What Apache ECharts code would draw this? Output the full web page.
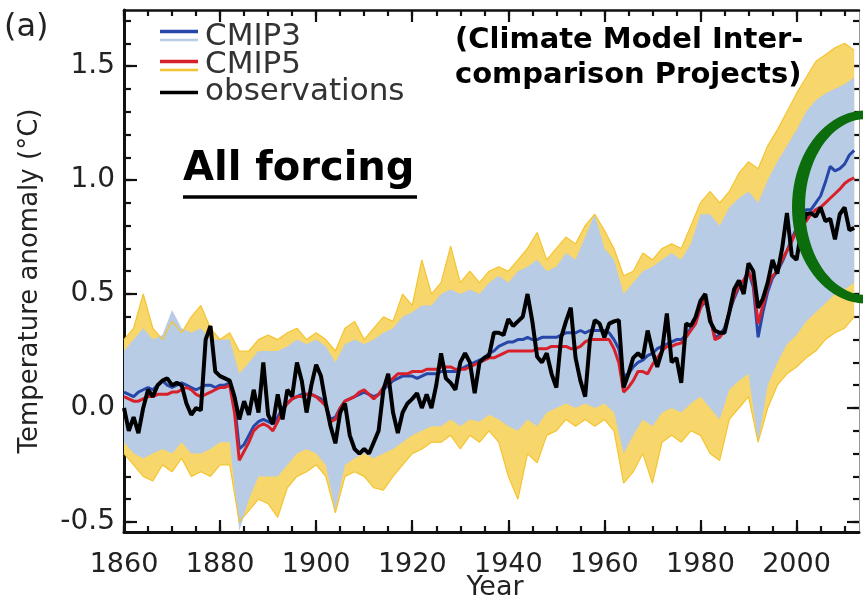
<!DOCTYPE html>
<html><head><meta charset="utf-8">
<script src="https://cdn.jsdelivr.net/npm/echarts@6/dist/echarts.min.js"></script>
<style>html,body{margin:0;padding:0;background:#fff}#c{width:863px;height:603px}</style>
</head><body><div id="c"></div>
<script>
// ---------- data ----------
const firstYear = 1860;           // annual series start (index 0 = 1860)
const envFirstYear = 1860;        // envelope series sampled every 2 years
const envStep = 2;

const observations = [
  0.0,-0.1,-0.04,-0.11,0.0,0.08,0.05,0.1,0.12,0.13,
  0.1,0.11,0.1,0.02,-0.03,0.0,-0.01,0.3,0.36,0.16,
  0.14,0.13,0.12,0.05,-0.05,0.03,-0.03,0.08,-0.02,0.2,
  -0.03,-0.07,0.06,-0.05,0.08,0.05,0.2,0.12,-0.02,0.1,
  0.19,0.14,0.02,-0.08,-0.155,-0.02,0.02,-0.12,-0.18,-0.2,
  -0.18,-0.2,-0.15,-0.1,0.08,0.15,-0.02,-0.11,-0.02,0.02,
  0.04,0.065,0.0,0.06,0.0,0.1,0.24,0.13,0.11,0.08,
  0.2,0.24,0.2,0.065,0.2,0.22,0.23,0.33,0.33,0.32,
  0.39,0.36,0.38,0.4,0.5,0.38,0.225,0.2,0.24,0.15,
  0.09,0.31,0.38,0.44,0.22,0.12,0.05,0.3,0.385,0.37,
  0.31,0.37,0.38,0.385,0.09,0.15,0.22,0.24,0.22,0.34,
  0.25,0.18,0.25,0.415,0.2,0.22,0.11,0.37,0.36,0.4,
  0.47,0.5,0.38,0.34,0.33,0.33,0.42,0.52,0.56,0.5,
  0.635,0.6,0.44,0.48,0.55,0.65,0.59,0.7,0.855,0.67,
  0.65,0.78,0.85,0.855,0.84,0.88,0.82,0.83,0.74,0.85,
  0.88,0.78,0.79
];
const cmip5Mean = [
  0.05,0.04,0.03,0.03,0.04,0.05,0.05,0.06,0.06,0.06,
  0.07,0.07,0.08,0.09,0.08,0.06,0.05,0.06,0.07,0.08,
  0.09,0.09,0.1,-0.02,-0.23,-0.19,-0.15,-0.1,-0.08,-0.07,
  -0.08,-0.1,-0.06,-0.01,0.02,0.04,0.05,0.05,0.06,0.06,
  0.05,0.03,0.01,-0.06,-0.05,0.0,0.03,0.04,0.05,0.07,
  0.08,0.06,0.04,0.06,0.09,0.11,0.13,0.15,0.15,0.15,
  0.16,0.16,0.16,0.17,0.17,0.17,0.18,0.18,0.18,0.17,
  0.17,0.17,0.18,0.19,0.2,0.21,0.22,0.22,0.23,0.24,
  0.25,0.25,0.25,0.25,0.25,0.25,0.26,0.26,0.26,0.27,
  0.27,0.27,0.27,0.26,0.26,0.27,0.29,0.3,0.3,0.3,
  0.3,0.3,0.26,0.2,0.07,0.09,0.12,0.16,0.16,0.15,
  0.19,0.22,0.25,0.27,0.27,0.28,0.285,0.31,0.34,0.37,
  0.44,0.48,0.4,0.3,0.31,0.34,0.42,0.49,0.54,0.56,
  0.6,0.55,0.37,0.45,0.53,0.58,0.6,0.65,0.69,0.73,
  0.78,0.8,0.82,0.85,0.87,0.88,0.9,0.92,0.94,0.96,
  0.985,1.0,1.01
];
const cmip3Mean = [
  0.07,0.06,0.05,0.07,0.08,0.09,0.08,0.1,0.12,0.1,
  0.09,0.1,0.11,0.1,0.09,0.08,0.09,0.1,0.1,0.09,
  0.1,0.1,0.11,0.02,-0.18,-0.16,-0.12,-0.08,-0.06,-0.05,
  -0.06,-0.07,-0.04,0.0,0.02,0.04,0.05,0.06,0.06,0.06,
  0.05,0.04,0.01,-0.05,-0.04,0.0,0.03,0.04,0.05,0.06,
  0.07,0.06,0.05,0.06,0.08,0.1,0.12,0.13,0.14,0.14,
  0.14,0.13,0.14,0.15,0.15,0.15,0.16,0.16,0.16,0.16,
  0.17,0.18,0.19,0.2,0.21,0.22,0.24,0.25,0.27,0.28,
  0.29,0.29,0.3,0.3,0.31,0.3,0.3,0.31,0.31,0.31,
  0.31,0.32,0.33,0.33,0.33,0.34,0.33,0.34,0.34,0.34,
  0.34,0.33,0.3,0.26,0.14,0.15,0.18,0.2,0.21,0.23,
  0.24,0.26,0.27,0.28,0.29,0.3,0.3,0.32,0.35,0.38,
  0.44,0.47,0.4,0.31,0.32,0.35,0.42,0.48,0.53,0.56,
  0.6,0.53,0.31,0.42,0.51,0.57,0.6,0.64,0.69,0.74,
  0.79,0.84,0.87,0.87,0.9,0.93,0.99,1.06,1.04,1.05,
  1.07,1.11,1.13
];
// CMIP5 individual-run envelope (yellow), every 2 years
const cmip5Upper = [
  0.3,0.35,0.5,0.35,0.3,0.38,0.33,0.4,0.45,0.35,
  0.3,0.33,0.25,0.25,0.3,0.32,0.3,0.33,0.35,0.3,
  0.33,0.3,0.25,0.35,0.38,0.3,0.35,0.4,0.38,0.5,
  0.45,0.65,0.5,0.55,0.71,0.55,0.6,0.55,0.6,0.62,
  0.6,0.65,0.7,0.77,0.65,0.7,0.75,0.72,0.8,0.85,
  0.78,0.7,0.58,0.6,0.68,0.65,0.7,0.72,0.7,0.8,
  0.9,0.95,0.9,0.95,1.03,1.08,1.05,1.15,1.22,1.3,
  1.38,1.45,1.52,1.55,1.58,1.6,1.57
];
const cmip5Lower = [
  -0.2,-0.25,-0.3,-0.32,-0.25,-0.28,-0.22,-0.3,-0.28,-0.3,
  -0.25,-0.25,-0.5,-0.45,-0.4,-0.42,-0.48,-0.35,-0.3,-0.28,
  -0.25,-0.3,-0.46,-0.3,-0.28,-0.3,-0.35,-0.36,-0.3,-0.25,
  -0.2,-0.18,-0.15,-0.15,-0.12,-0.18,-0.12,-0.15,-0.1,-0.15,
  -0.3,-0.4,-0.2,-0.24,-0.12,-0.1,-0.05,-0.08,-0.05,-0.08,
  -0.05,-0.1,-0.33,-0.28,-0.2,-0.33,-0.15,-0.12,-0.15,-0.1,
  -0.12,-0.2,-0.23,-0.05,0.0,0.05,-0.15,0.0,0.1,0.15,
  0.18,0.22,0.25,0.3,0.33,0.35,0.4
];
// CMIP3 individual-run envelope (light blue), every 2 years
const cmip3Upper = [
  0.25,0.3,0.35,0.3,0.32,0.43,0.35,0.33,0.35,0.3,
  0.3,0.3,0.15,0.2,0.25,0.25,0.25,0.27,0.3,0.28,
  0.3,0.27,0.2,0.28,0.3,0.28,0.3,0.33,0.35,0.4,
  0.42,0.45,0.45,0.5,0.52,0.5,0.52,0.5,0.55,0.58,
  0.55,0.6,0.62,0.65,0.6,0.62,0.68,0.65,0.75,0.85,
  0.7,0.65,0.5,0.55,0.6,0.62,0.65,0.68,0.65,0.72,
  0.85,0.85,0.8,0.88,0.92,0.95,0.9,1.0,1.08,1.15,
  1.22,1.3,1.35,1.38,1.4,1.42,1.45
];
const cmip3Lower = [
  -0.15,-0.2,-0.22,-0.2,-0.18,-0.2,-0.15,-0.2,-0.2,-0.18,
  -0.15,-0.15,-0.54,-0.4,-0.3,-0.3,-0.3,-0.25,-0.2,-0.18,
  -0.2,-0.25,-0.45,-0.25,-0.22,-0.2,-0.22,-0.2,-0.18,-0.15,
  -0.12,-0.1,-0.08,-0.08,-0.05,-0.08,-0.05,-0.06,-0.03,-0.05,
  -0.08,-0.1,-0.05,-0.08,-0.02,0.0,0.02,0.0,0.02,0.0,
  0.02,-0.02,-0.2,-0.12,-0.05,-0.08,-0.02,0.0,-0.02,0.02,
  0.05,0.0,-0.05,0.08,0.12,0.15,-0.15,0.1,0.2,0.28,
  0.32,0.38,0.42,0.46,0.5,0.52,0.55
];
const xMajorTicks = [1860,1880,1900,1920,1940,1960,1980,2000];
const xMinorTicks = [1860,1865,1870,1875,1880,1885,1890,1895,1900,1905,1910,1915,1920,1925,1930,1935,1940,1945,1950,1955,1960,1965,1970,1975,1980,1985,1990,1995,2000,2005,2010];
const yMajorTicks = [-0.5,0.0,0.5,1.0,1.5];
const yMinorTicks = [-0.5,-0.4,-0.3,-0.2,-0.1,0.0,0.1,0.2,0.3,0.4,0.5,0.6,0.7,0.8,0.9,1.0,1.1,1.2,1.3,1.4,1.5,1.6,1.7];

// ---------- chart ----------
const X_MIN = 1860, X_MAX = 2013, Y_MIN = -0.544, Y_MAX = 1.746;
const FONT = 'DejaVu Sans';
const annual = arr => arr.map((v, i) => [firstYear + i, v]);
const envYears = cmip5Upper.map((_, i) => envFirstYear + i * envStep);

function band(lo, hi, color) {
  return {
    type: 'custom', silent: true, z: 1, clip: true,
    data: envYears.map((y, i) => [y, lo[i], hi[i]]),
    encode: { x: 0, y: [1, 2] },
    renderItem: function (params, api) {
      if (params.dataIndex !== 0) return null;
      const pts = [];
      for (let i = 0; i < envYears.length; i++) pts.push(api.coord([envYears[i], hi[i]]));
      for (let i = envYears.length - 1; i >= 0; i--) pts.push(api.coord([envYears[i], lo[i]]));
      return { type: 'polygon', shape: { points: pts }, style: { fill: color } };
    }
  };
}
function edge(arr, color, w) {
  return { type: 'line', silent: true, z: 2, symbol: 'none',
    data: envYears.map((y, i) => [y, arr[i]]),
    lineStyle: { color: color, width: w } };
}
function xAx(pos, ticks, len, showLine, lw, labels) {
  return {
    type: 'value', position: pos, min: X_MIN, max: X_MAX, gridIndex: 0,
    axisLine: { show: showLine, onZero: false, lineStyle: { color: '#111', width: lw } },
    axisTick: { show: true, inside: true, length: len, customValues: ticks, lineStyle: { color: '#111', width: 2.2 } },
    axisLabel: labels ? { show: true, customValues: xMajorTicks, fontFamily: FONT, fontSize: 27, color: '#222', margin: 19,
      formatter: v => String(Math.round(v)) } : { show: false },
    splitLine: { show: false }
  };
}
function yAx(pos, ticks, len, showLine, lw, lineColor, labels) {
  return {
    type: 'value', position: pos, min: Y_MIN, max: Y_MAX, gridIndex: 0,
    axisLine: { show: showLine, onZero: false, lineStyle: { color: lineColor, width: lw } },
    axisTick: { show: true, inside: true, length: len, customValues: ticks, lineStyle: { color: '#111', width: 2.2 } },
    axisLabel: labels ? { show: true, customValues: yMajorTicks, fontFamily: FONT, fontSize: 28, color: '#222', margin: 9,
      formatter: v => Number(v).toFixed(1) } : { show: false },
    splitLine: { show: false }
  };
}
// ring-shaped annotation outline (outer loop, then inner loop in reverse)
function ringPoints(cx, cy, rxo, ryo, rxi, ryi) {
  const pts = [], n = 90;
  for (let k = 0; k <= n; k++) { const a = 2 * Math.PI * k / n; pts.push([cx + rxo * Math.cos(a), cy + ryo * Math.sin(a)]); }
  for (let k = n; k >= 0; k--) { const a = 2 * Math.PI * k / n; pts.push([cx + rxi * Math.cos(a), cy + ryi * Math.sin(a)]); }
  return pts;
}

const chart = echarts.init(document.getElementById('c'), null, { renderer: 'canvas' });
const xMain = xAx('bottom', xMajorTicks, 12, true, 3, true);
const yMain = yAx('left', yMajorTicks, 13, true, 3, '#111', true);

const legendX1 = 160, legendX2 = 198, legendTextX = 205;
chart.setOption({
  animation: false,
  backgroundColor: '#fff',
  grid: { left: 124, right: 4, top: 10, bottom: 71, containLabel: false, outerBoundsMode: 'none' },
  xAxis: [
    xMain,
    xAx('bottom', xMinorTicks, 6, false, 0, false),
    xAx('top', xMajorTicks, 12, true, 2.5, false),
    xAx('top', xMinorTicks, 6, false, 0, false)
  ],
  yAxis: [
    yMain,
    yAx('left', yMinorTicks, 7, false, 0, '#111', false),
    yAx('right', yMajorTicks, 12, true, 1, '#999', false),
    yAx('right', yMinorTicks, 6, false, 0, '#999', false)
  ],
  series: [
    band(cmip5Lower, cmip5Upper, '#f7d66b'),
    band(cmip3Lower, cmip3Upper, '#b9cce6'),
    edge(cmip5Upper, '#f4c430', 1.2),
    edge(cmip5Lower, '#f4c430', 1.2),
    { type: 'line', name: 'CMIP3', z: 4, symbol: 'none', data: annual(cmip3Mean), lineStyle: { color: '#2747a8', width: 3 } },
    { type: 'line', name: 'CMIP5', z: 5, symbol: 'none', data: annual(cmip5Mean), lineStyle: { color: '#d8202a', width: 3 } },
    { type: 'line', name: 'observations', z: 6, symbol: 'none', data: annual(observations), lineStyle: { color: '#000', width: 4 } }
  ],
  graphic: [
    { type: 'text', x: 4, y: 28, style: { text: '(a)', font: '32px "DejaVu Sans"', fill: '#222', verticalAlign: 'middle' } },
    { type: 'text', x: 30, y: 281, rotation: Math.PI / 2,
      style: { text: 'Temperature anomaly (°C)', font: '26px "DejaVu Sans"', fill: '#222', align: 'center', verticalAlign: 'middle' } },
    { type: 'text', x: 495, y: 588,
      style: { text: 'Year', font: '27px "DejaVu Sans"', fill: '#222', align: 'center', verticalAlign: 'middle' } },
    { type: 'line', shape: { x1: legendX1, y1: 31.5, x2: legendX2, y2: 31.5 }, style: { stroke: '#2747a8', lineWidth: 3.5 } },
    { type: 'line', shape: { x1: legendX1, y1: 40, x2: legendX2, y2: 40 }, style: { stroke: '#b9cce6', lineWidth: 2.5 } },
    { type: 'line', shape: { x1: legendX1, y1: 61.5, x2: legendX2, y2: 61.5 }, style: { stroke: '#d8202a', lineWidth: 3.5 } },
    { type: 'line', shape: { x1: legendX1, y1: 70, x2: legendX2, y2: 70 }, style: { stroke: '#f4c430', lineWidth: 2.5 } },
    { type: 'line', shape: { x1: legendX1, y1: 92.5, x2: legendX2, y2: 92.5 }, style: { stroke: '#000', lineWidth: 3.5 } },
    { type: 'text', x: legendTextX, y: 37, style: { text: 'CMIP3', font: '31px "DejaVu Sans"', fill: '#333', verticalAlign: 'middle' } },
    { type: 'text', x: legendTextX, y: 65, style: { text: 'CMIP5', font: '31px "DejaVu Sans"', fill: '#333', verticalAlign: 'middle' } },
    { type: 'text', x: legendTextX, y: 92, style: { text: 'observations', font: '31px "DejaVu Sans"', fill: '#333', verticalAlign: 'middle' } },
    { type: 'text', x: 183, y: 170, z: 50, style: { text: 'All forcing', font: 'bold 40px "DejaVu Sans"', fill: '#000', verticalAlign: 'middle' } },
    { type: 'line', z: 50, shape: { x1: 183, y1: 197, x2: 417, y2: 197 }, style: { stroke: '#000', lineWidth: 3.5 } },
    { type: 'text', x: 455, y: 40, z: 50, style: { text: '(Climate Model Inter-', font: 'bold 29px "DejaVu Sans"', fill: '#000', verticalAlign: 'middle' } },
    { type: 'text', x: 455, y: 75, z: 50, style: { text: 'comparison Projects)', font: 'bold 29px "DejaVu Sans"', fill: '#000', verticalAlign: 'middle' } },
    { type: 'polygon', z: 60, shape: { points: ringPoints(866, 207, 74, 96.5, 61, 88) }, style: { fill: '#0b6d0b' } }
  ]
});
</script></body></html>
